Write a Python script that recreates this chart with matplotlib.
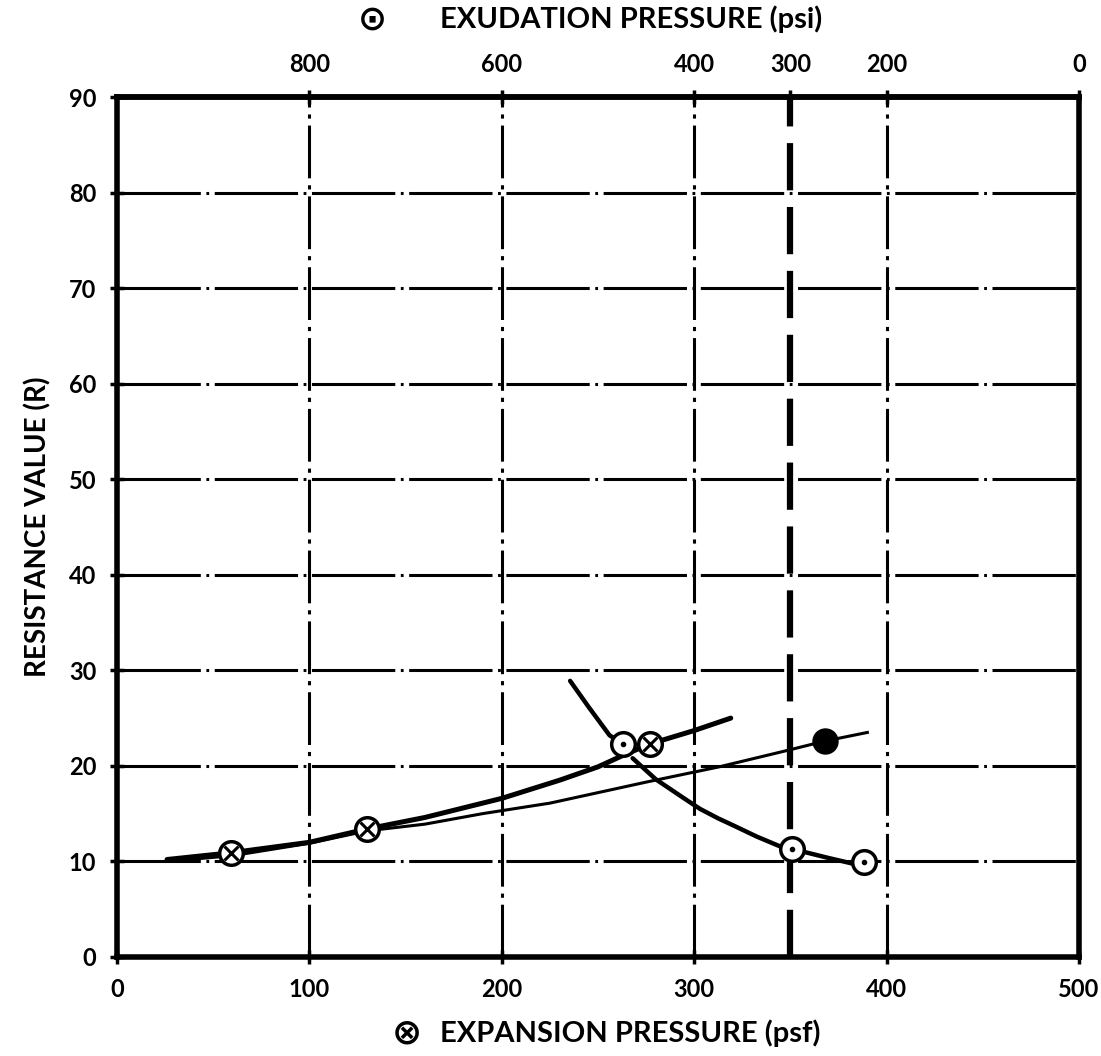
import numpy as np
import matplotlib.pyplot as plt

plt.rcParams['font.family'] = ['Lato', 'DejaVu Sans']
plt.rcParams['lines.scale_dashes'] = False

# Expansion pressure points (psf, R)
exp_x = [59, 130, 277]
exp_r = [10.9, 13.4, 22.3]
# fitted expansion curve (thick)
exp_curve_x = [26, 59, 100, 130, 160, 200, 230, 250, 263, 277, 300, 319]
exp_curve_r = [10.2, 10.9, 12.0, 13.4, 14.6, 16.6, 18.5, 19.9, 21.1, 22.3, 23.7, 25.0]

# Exudation pressure points (psi, R)
exu_psi = [474, 298, 224]
exu_r = [22.3, 11.3, 9.9]
# exudation curve, drawn in two pieces (broken just below the first point)
exu_upper_psi = [529, 510, 488, 474]
exu_upper_r = [28.9, 26.2, 23.2, 22.3]
exu_lower_psi = [464, 440, 412, 394, 375, 360, 335, 309, 298, 262, 224]
exu_lower_r = [20.8, 18.6, 16.7, 15.5, 14.5, 13.8, 12.6, 11.5, 11.3, 10.4, 9.5]

# thin line with filled point
thin_x = [26, 60, 100, 130, 160, 190, 225, 250, 275, 313, 346, 368, 390]
thin_r = [10.0, 10.6, 11.9, 13.2, 13.9, 15.0, 16.1, 17.2, 18.3, 19.9, 21.5, 22.6, 23.5]
filled_x = [368]
filled_r = [22.6]

design_psf = 350  # 300 psi exudation

x_ticks = [0, 100, 200, 300, 400, 500]
y_ticks = list(range(0, 100, 10))
top_ticks = [800, 600, 400, 300, 200, 0]


def psf_to_psi(x):
    return 1000 - 2 * np.asarray(x, dtype=float)


def psi_to_psf(p):
    return (1000 - np.asarray(p, dtype=float)) / 2


fig = plt.figure(figsize=(11.01, 10.56), dpi=100)
ax = fig.add_axes([0.1063, 0.0938, 0.8737, 0.8142])
ax.set_xlim(0, 500)
ax.set_ylim(0, 90)

# grid
for y in y_ticks[1:-1]:
    ax.axhline(y, color='black', lw=2.2, ls=(0, (60, 4, 2, 4)), zorder=1)
for x in x_ticks[1:-1]:
    ax.axvline(x, color='black', lw=2.2, ls=(0, (38, 5, 3, 5)), zorder=1)
ax.axvline(design_psf, color='black', lw=4.5, ls=(0, (34, 12)), zorder=1)

# curves
ax.plot(thin_x, thin_r, color='black', lw=2.2, zorder=2, solid_joinstyle='round')
ax.plot(exp_curve_x, exp_curve_r, color='black', lw=3.6, zorder=2,
        solid_capstyle='round', solid_joinstyle='round')
for px, pr in [(exu_upper_psi, exu_upper_r), (exu_lower_psi, exu_lower_r)]:
    ax.plot(psi_to_psf(px), pr, color='black', lw=3.2, zorder=2,
            solid_capstyle='round', solid_joinstyle='round')

# markers
ax.plot(exp_x, exp_r, 'o', ms=17, mfc='white', mec='black', mew=2.5, zorder=3)
ax.plot(exp_x, exp_r, 'x', ms=10, mec='black', mew=2.2, zorder=4)
ax.plot(psi_to_psf(exu_psi), exu_r, 'o', ms=17, mfc='white', mec='black', mew=2.5, zorder=3)
ax.plot(psi_to_psf(exu_psi), exu_r, 'o', ms=3, mfc='black', mec='black', zorder=4)
ax.plot(filled_x, filled_r, 'o', ms=18, mfc='black', mec='black', zorder=3)

# axes
for s in ax.spines.values():
    s.set_linewidth(4)
ax.set_xticks(x_ticks)
ax.set_yticks(y_ticks)
ax.tick_params(direction='inout', length=10, width=2.5, labelsize=17, pad=10)
for lab in ax.get_xticklabels() + ax.get_yticklabels():
    lab.set_fontweight('bold')

top = ax.secondary_xaxis('top', functions=(psf_to_psi, psi_to_psf))
top.set_xticks(top_ticks)
top.tick_params(direction='inout', length=10, width=2.5, labelsize=17, pad=10)
top.spines['top'].set_linewidth(4)
for lab in top.get_xticklabels():
    lab.set_fontweight('bold')

# axis titles
fig.text(372 / 1101, 1 - 20 / 1056, '\u2299', fontsize=25, fontweight='bold',
         ha='center', va='center', family='DejaVu Sans')
fig.text(440 / 1101, 1 - 19 / 1056, 'EXUDATION PRESSURE (psi)', fontsize=21,
         fontweight='bold', ha='left', va='center')
fig.text(407 / 1101, 1 - 1033 / 1056, '\u2297', fontsize=26, fontweight='bold',
         ha='center', va='center', family='DejaVu Sans')
fig.text(440 / 1101, 1 - 1033 / 1056, 'EXPANSION PRESSURE (psf)', fontsize=21,
         fontweight='bold', ha='left', va='center')
ax.set_ylabel('RESISTANCE VALUE (R)', fontsize=20, fontweight='bold', labelpad=12)

fig.savefig('out.png', dpi=100)
